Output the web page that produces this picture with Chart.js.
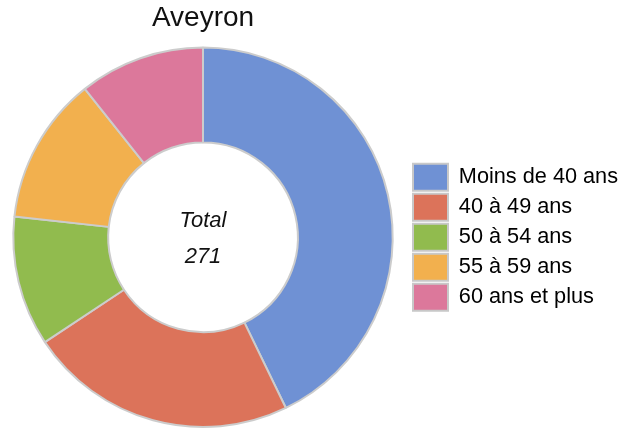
<!DOCTYPE html>
<html>
<head>
<meta charset="utf-8">
<script src="https://cdn.jsdelivr.net/npm/chart.js@4"></script>
<style>
  html, body { margin: 0; padding: 0; background: #fff; }
  #wrap { width: 618px; height: 430px; }
</style>
</head>
<body>
<div id="wrap"><canvas id="chart"></canvas></div>
<script>
// data
const titleText = 'Aveyron';
const categories = ['Moins de 40 ans', '40 à 49 ans', '50 à 54 ans', '55 à 59 ans', '60 ans et plus'];
const values = [116, 62, 30, 34, 29];
const colors = ['#6F91D4', '#DC735A', '#91BB4E', '#F2B04E', '#DC789B'];

const total = values.reduce((a, b) => a + b, 0);

// draws "Total" and the sum in the hole
const centerText = {
    id: 'centerText',
    afterDraw(chart) {
        const arc = chart.getDatasetMeta(0).data[0];
        if (!arc) return;
        const ctx = chart.ctx;
        ctx.save();
        ctx.fillStyle = '#111';
        ctx.textAlign = 'center';
        ctx.textBaseline = 'alphabetic';
        ctx.font = 'italic 22px "Liberation Sans", Arial, sans-serif';
        ctx.fillText('Total', arc.x, arc.y - 10);
        ctx.fillText(String(total), arc.x, arc.y + 26);
        ctx.restore();
    }
};

// leave a small gap between the ring and the legend
const legendGap = {
    id: 'legendGap',
    afterLayout(chart) {
        const lg = chart.legend;
        lg.left += 4;
        lg.right += 4;
    }
};

const ctx = document.getElementById('chart').getContext('2d');
new Chart(ctx, {
    type: 'doughnut',
    data: {
        labels: categories,
        datasets: [{
            data: values,
            backgroundColor: colors,
            borderColor: '#cccccc',
            borderWidth: 2
        }]
    },
    options: {
        responsive: true,
        maintainAspectRatio: false,
        animation: false,
        cutout: '50%',
        layout: { padding: { left: 0, right: 0, top: 0, bottom: 2 } },
        plugins: {
            title: {
                display: true,
                text: titleText,
                fullSize: false,
                color: '#111',
                font: { family: '"Liberation Sans", Arial, sans-serif', size: 28, weight: 'normal' },
                padding: { top: 1, bottom: 12 }
            },
            legend: {
                position: 'right',
                fullSize: false,
                maxWidth: 212,
                labels: {
                    color: '#111',
                    font: { family: '"Liberation Sans", Arial, sans-serif', size: 21.7 },
                    boxWidth: 35,
                    boxHeight: 27,
                    padding: 3,
                    generateLabels(chart) {
                        const ds = chart.data.datasets[0];
                        return chart.data.labels.map((label, i) => ({
                            text: label,
                            fillStyle: ds.backgroundColor[i],
                            strokeStyle: '#c8c8c8',
                            lineWidth: 2,
                            hidden: false,
                            index: i
                        }));
                    }
                }
            },
            tooltip: { enabled: false }
        }
    },
    plugins: [centerText, legendGap]
});
</script>
</body>
</html>
